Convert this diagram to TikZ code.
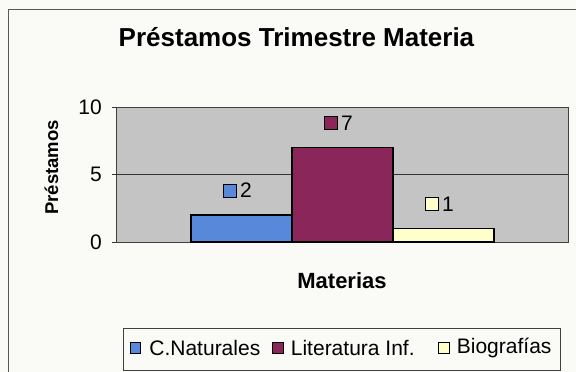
\documentclass[tikz,border=0pt]{standalone}
\usepackage{fontspec}
\setmainfont{Liberation Sans}
\usetikzlibrary{positioning}

\definecolor{natblue}{RGB}{88,136,218}
\definecolor{litpurple}{RGB}{138,38,90}
\definecolor{bioyellow}{RGB}{255,255,204}
\definecolor{plotgrey}{RGB}{196,196,196}
\definecolor{paper}{RGB}{250,250,247}

\begin{document}
\begin{tikzpicture}[x=1pt, y=-1pt, font=\fontsize{21}{24}\selectfont,
   keybox/.style={draw, minimum size=10.5pt, inner sep=0pt, line width=0.9pt},
   markbox/.style={draw, minimum size=13pt, inner sep=0pt, line width=1pt},
   bar/.style={draw, line width=1.2pt}]

   \fill[paper] (0,0) rectangle (576,372);
   \useasboundingbox (0,0) rectangle (576,372);
   \draw[gray!70!black] (8,372) -- (8,9) -- (576,9);

   \node[anchor=base, font=\bfseries\fontsize{26}{30}\selectfont] (title) at (296.5,46.7) {Préstamos Trimestre Materia};

   % plot area
   \draw[gray!50!black, fill=plotgrey] (116,107) rectangle (568,242);
   \draw[black!80] (116,174.5) -- (568,174.5);
   \foreach \v/\y in {0/242, 5/174.5, 10/107} {
     \draw[black!80] (111.5,\y) -- (116,\y);
     \node[anchor=east, inner sep=0pt] (tick\v) at (102,\y) {\v};
   }

   \foreach \n/\x/\v/\c in {nat/191/2/natblue, lit/292/7/litpurple, bio/393/1/bioyellow} {
     \draw[bar, fill=\c] (\x,242) rectangle ++(101,-13.5*\v);
     \node[markbox, fill=\c] (mark\n) at (\x+39,242-13.5*\v-24.5) {};
     \node[right=3pt of mark\n, inner sep=0pt] (val\n) {\v};
   }

   \node[rotate=90, anchor=base, font=\bfseries\fontsize{18.5}{22}\selectfont] (ytitle) at (58,167.5) {Préstamos};
   \node[font=\bfseries\fontsize{22}{26}\selectfont] (xtitle) at (342,281) {Materias};

   % legend
   \draw[gray!50!black] (123,328) rectangle (560,370);
   \foreach \n/\x/\g/\c/\t in {nat/135.5/8/natblue/C.Naturales, lit/278/7/litpurple/Literatura Inf., bio/444/7/bioyellow/Biografías} {
     \node[keybox, fill=\c] (key\n) at (\x,348) {};
     \node[right=\g pt of key\n, inner sep=0pt] (leg\n) {\t};
   }

\end{tikzpicture}
\end{document}
